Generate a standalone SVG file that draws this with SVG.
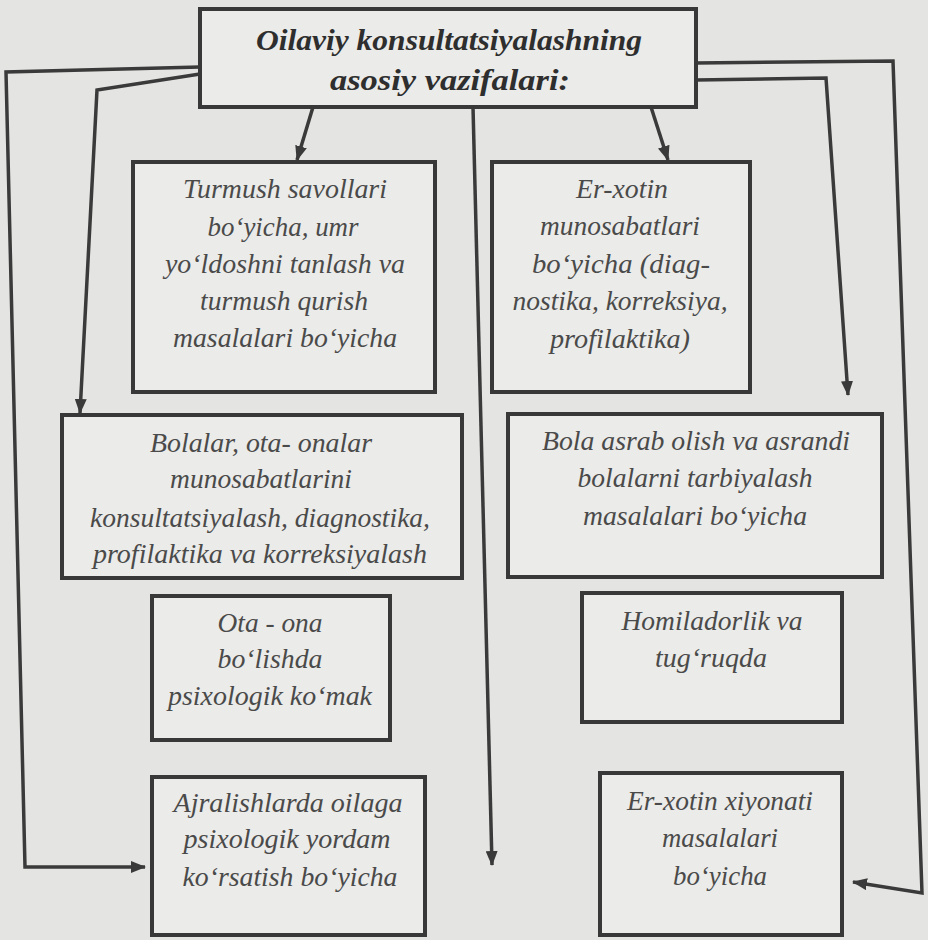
<svg xmlns="http://www.w3.org/2000/svg" width="928" height="940" viewBox="0 0 928 940">
<style>
.bg{fill:#e4e4e2}
.box{fill:#ebebe9;stroke:#383838;stroke-width:4}
.t{font-family:"Liberation Serif","Times New Roman",serif;font-style:italic;font-size:27px;fill:#4a4a4a;text-anchor:middle}
.title{font-family:"Liberation Serif","Times New Roman",serif;font-style:italic;font-weight:bold;font-size:29px;fill:#2e2e2e;text-anchor:middle}
.c{fill:none;stroke:#3a3a3a;stroke-width:3.5;stroke-linejoin:miter}
</style>
<defs>
<marker id="ah" markerUnits="userSpaceOnUse" markerWidth="16" markerHeight="12" refX="14" refY="6" orient="auto">
<path d="M0,0 L15,6 L0,12 z" fill="#3a3a3a"/>
</marker>
</defs>
<rect class="bg" x="0" y="0" width="928" height="940"/>
<g id="connectors">
<path class="c" d="M313,107 L297,160" marker-end="url(#ah)"/>
<path class="c" d="M651,107 L668,160" marker-end="url(#ah)"/>
<path class="c" d="M473,107 L492,865" marker-end="url(#ah)"/>
<path class="c" d="M200,67 L6,72 L25,867 L145,867" marker-end="url(#ah)"/>
<path class="c" d="M200,74 L97,90 L80,413" marker-end="url(#ah)"/>
<path class="c" d="M696,80 L826,78 L848,395" marker-end="url(#ah)"/>
<path class="c" d="M696,63 L893,61 L922,893 L853,882" marker-end="url(#ah)"/>
</g>
<g id="title">
<rect class="box" x="200" y="9" width="496" height="98"/>
<text class="title" x="449" y="50" textLength="386" lengthAdjust="spacingAndGlyphs">Oilaviy konsultatsiyalashning</text>
<text class="title" x="450" y="90" textLength="240" lengthAdjust="spacingAndGlyphs">asosiy vazifalari:</text>
</g>
<g id="turmush">
<rect class="box" x="133" y="162" width="302" height="230"/>
<text class="t" x="285" y="198" textLength="204" lengthAdjust="spacingAndGlyphs">Turmush savollari</text>
<text class="t" x="283" y="236" textLength="151" lengthAdjust="spacingAndGlyphs">bo‘yicha, umr</text>
<text class="t" x="285" y="273" textLength="240" lengthAdjust="spacingAndGlyphs">yo‘ldoshni tanlash va</text>
<text class="t" x="284" y="310" textLength="168" lengthAdjust="spacingAndGlyphs">turmush qurish</text>
<text class="t" x="285" y="347" textLength="224" lengthAdjust="spacingAndGlyphs">masalalari bo‘yicha</text>
</g>
<g id="erxotin">
<rect class="box" x="492" y="162" width="258" height="230"/>
<text class="t" x="622" y="198" textLength="92" lengthAdjust="spacingAndGlyphs">Er-xotin</text>
<text class="t" x="620" y="235" textLength="160" lengthAdjust="spacingAndGlyphs">munosabatlari</text>
<text class="t" x="621" y="273" textLength="178" lengthAdjust="spacingAndGlyphs">bo‘yicha  (diag-</text>
<text class="t" x="620" y="310" textLength="215" lengthAdjust="spacingAndGlyphs">nostika, korreksiya,</text>
<text class="t" x="620" y="348" textLength="140" lengthAdjust="spacingAndGlyphs">profilaktika)</text>
</g>
<g id="bolalar">
<rect class="box" x="62" y="415" width="400" height="163"/>
<text class="t" x="261" y="452" textLength="222" lengthAdjust="spacingAndGlyphs">Bolalar, ota- onalar</text>
<text class="t" x="261" y="488" textLength="182" lengthAdjust="spacingAndGlyphs">munosabatlarini</text>
<text class="t" x="260" y="527" textLength="340" lengthAdjust="spacingAndGlyphs">konsultatsiyalash, diagnostika,</text>
<text class="t" x="260" y="563" textLength="334" lengthAdjust="spacingAndGlyphs">profilaktika va korreksiyalash</text>
</g>
<g id="bolaasrab">
<rect class="box" x="508" y="414" width="374" height="163"/>
<text class="t" x="696" y="450" textLength="308" lengthAdjust="spacingAndGlyphs">Bola asrab olish va asrandi</text>
<text class="t" x="695" y="487" textLength="235" lengthAdjust="spacingAndGlyphs">bolalarni tarbiyalash</text>
<text class="t" x="695" y="525" textLength="224" lengthAdjust="spacingAndGlyphs">masalalari bo‘yicha</text>
</g>
<g id="otaona">
<rect class="box" x="152" y="596" width="238" height="144"/>
<text class="t" x="270" y="632" textLength="105" lengthAdjust="spacingAndGlyphs">Ota - ona</text>
<text class="t" x="270" y="668" textLength="105" lengthAdjust="spacingAndGlyphs">bo‘lishda</text>
<text class="t" x="270" y="705" textLength="204" lengthAdjust="spacingAndGlyphs">psixologik ko‘mak</text>
</g>
<g id="homiladorlik">
<rect class="box" x="582" y="593" width="260" height="129"/>
<text class="t" x="712" y="630" textLength="181" lengthAdjust="spacingAndGlyphs">Homiladorlik va</text>
<text class="t" x="711" y="667" textLength="112" lengthAdjust="spacingAndGlyphs">tug‘ruqda</text>
</g>
<g id="ajralish">
<rect class="box" x="152" y="777" width="273" height="158"/>
<text class="t" x="288" y="812" textLength="229" lengthAdjust="spacingAndGlyphs">Ajralishlarda oilaga</text>
<text class="t" x="287" y="848" textLength="207" lengthAdjust="spacingAndGlyphs">psixologik yordam</text>
<text class="t" x="290" y="886" textLength="215" lengthAdjust="spacingAndGlyphs">ko‘rsatish bo‘yicha</text>
</g>
<g id="xiyonat">
<rect class="box" x="600" y="773" width="242" height="162"/>
<text class="t" x="720" y="810" textLength="186" lengthAdjust="spacingAndGlyphs">Er-xotin xiyonati</text>
<text class="t" x="720" y="847" textLength="116" lengthAdjust="spacingAndGlyphs">masalalari</text>
<text class="t" x="720" y="885" textLength="94" lengthAdjust="spacingAndGlyphs">bo‘yicha</text>
</g>
</svg>
